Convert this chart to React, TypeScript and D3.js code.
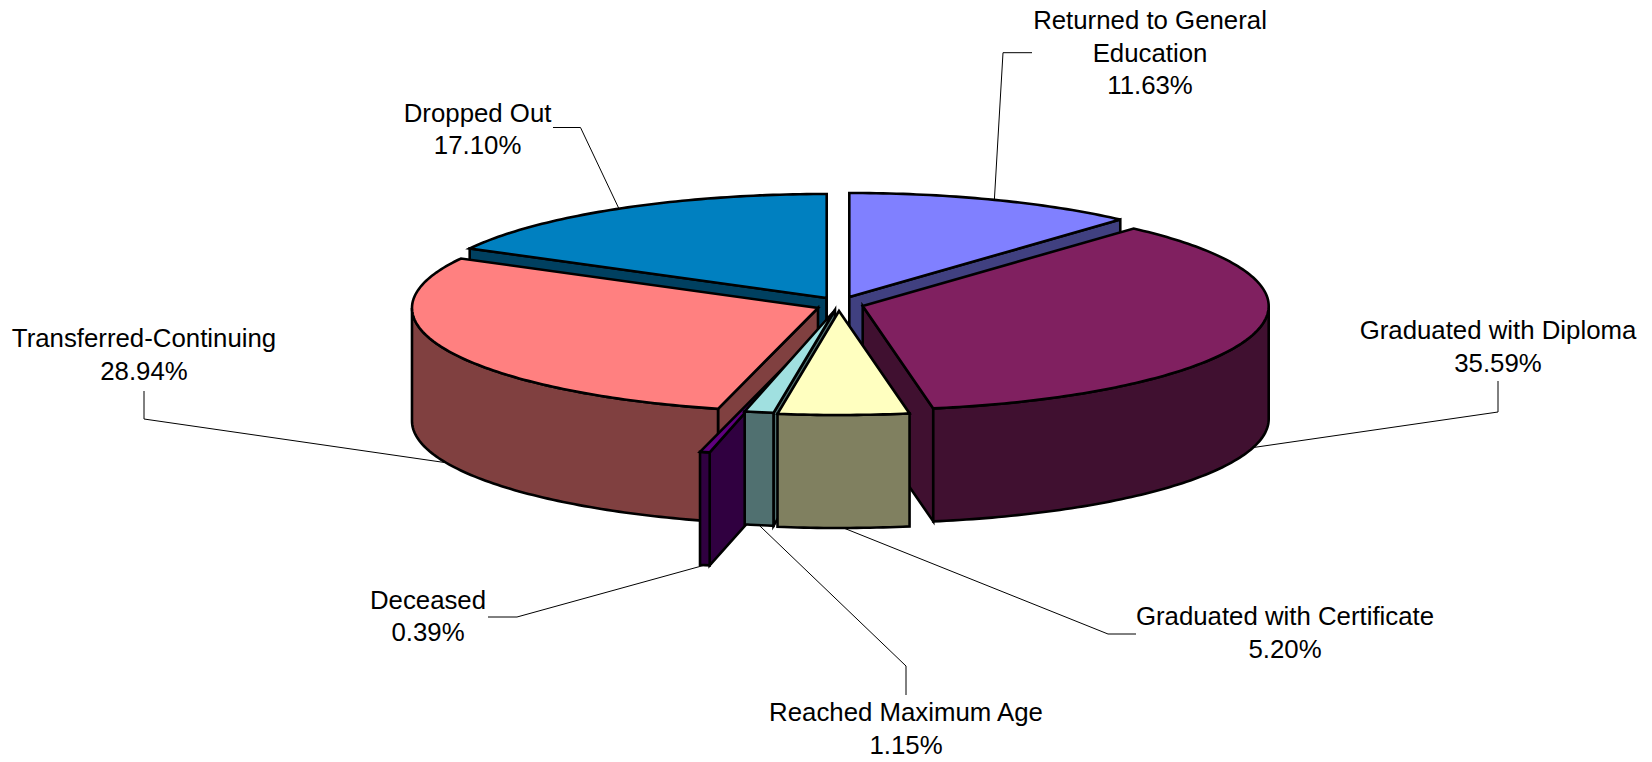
import React from 'react';
import * as d3 from 'd3';

const categories = ['Returned to General Education', 'Graduated with Diploma', 'Graduated with Certificate', 'Reached Maximum Age', 'Deceased', 'Transferred-Continuing', 'Dropped Out'];
const percents = [11.63, 35.59, 5.2, 1.15, 0.39, 28.94, 17.1];
const labelLines = [['Returned to General', 'Education', '11.63%'], ['Graduated with Diploma', '35.59%'], ['Graduated with Certificate', '5.20%'], ['Reached Maximum Age', '1.15%'], ['Deceased', '0.39%'], ['Transferred-Continuing', '28.94%'], ['Dropped Out', '17.10%']];
const topColors = ['#8080FF', '#802060', '#FFFFC0', '#A0E0E0', '#600080', '#FF8080', '#0080C0'];
const sideColors = ['#404080', '#401030', '#808060', '#507070', '#300040', '#804040', '#004060'];
// exploded apex of each wedge on the page
const apexX = [849.3, 862.7, 839, 835, 800, 818, 826.7];
const apexY = [297, 306, 311, 310, 351, 308, 298];
// back-to-front painting order (indices into categories)
const paintOrder = [6, 0, 5, 1, 4, 3, 2];
// label anchors
const labelX = [1150, 1498, 1285, 906, 428, 144, 477.6];
const labelY = [20, 330, 616, 712, 599.5, 338, 112.7];
const elbowA = [[1003, 52.7], [1498, 412], [1108, 634], [906, 666], [517, 617], [144, 419], [580.5, 127.5]];
const elbowB = [[1032, 52.7], [1498, 381], [1136, 634], [906, 695], [488, 617], [144, 391], [553, 127.5]];

const RX = 406;
const RY = 104;
const DEPTH = 113;
const FONT = 25.8;
const LINE = 32.5;

type Pt = [number, number];
const line = d3.line<Pt>().x(d => d[0]).y(d => d[1]);

export default function App() {
  const arcs = d3.pie<number>().sort(null).value(d => d)(percents);
  const at = (i: number, a: number, dy = 0): Pt => [apexX[i] + RX * Math.sin(a), apexY[i] - RY * Math.cos(a) + dy];
  const sample = (a0: number, a1: number) => {
    const n = Math.max(2, Math.ceil(Math.abs(a1 - a0) * 60));
    return d3.range(n + 1).map(k => a0 + ((a1 - a0) * k) / n);
  };
  const faces = paintOrder.map(i => {
    const { startAngle: s, endAngle: e } = arcs[i];
    const apex: Pt = [apexX[i], apexY[i]];
    const apexLow: Pt = [apexX[i], apexY[i] + DEPTH];
    const cut = (a: number) => line([apex, at(i, a), at(i, a, DEPTH), apexLow, apex]) + 'Z';
    const top = line([apex, ...sample(s, e).map(a => at(i, a))]) + 'Z';
    const w0 = Math.max(s, Math.PI / 2);
    const w1 = Math.min(e, (3 * Math.PI) / 2);
    const wall = w1 > w0
      ? line([...sample(w0, w1).map(a => at(i, a)), ...sample(w1, w0).map(a => at(i, a, DEPTH))]) + 'Z'
      : null;
    return (
      <g key={categories[i]} stroke="#000" strokeWidth={2.6} strokeLinejoin="miter">
        {Math.sin(s) < 0 && <path d={cut(s)} fill={sideColors[i]} />}
        {Math.sin(e) > 0 && <path d={cut(e)} fill={sideColors[i]} />}
        {wall && <path d={wall} fill={sideColors[i]} />}
        <path d={top} fill={topColors[i]} />
      </g>
    );
  });
  const leaders = categories.map((c, i) => {
    const m = (arcs[i].startAngle + arcs[i].endAngle) / 2;
    const front = Math.cos(m) < 0;
    const p = at(i, m, front ? DEPTH : 0);
    return <path key={c} d={line([p, elbowA[i] as Pt, elbowB[i] as Pt]) || ''} fill="none" stroke="#000" strokeWidth={1} />;
  });
  const labels = categories.map((c, i) => (
    <g key={c}>
      {labelLines[i].map((t, j) => (
        <text key={j} x={labelX[i]} y={labelY[i] + j * LINE} textAnchor="middle" dominantBaseline="central"
          fontFamily="'Liberation Sans', Arial, sans-serif" fontSize={FONT} fill="#000">{t}</text>
      ))}
    </g>
  ));
  return (
    <svg width={1652} height={762} style={{ position: 'absolute', left: 0, top: 0, display: 'block', background: '#fff' }}>
      {leaders}
      {faces}
      {labels}
    </svg>
  );
}
